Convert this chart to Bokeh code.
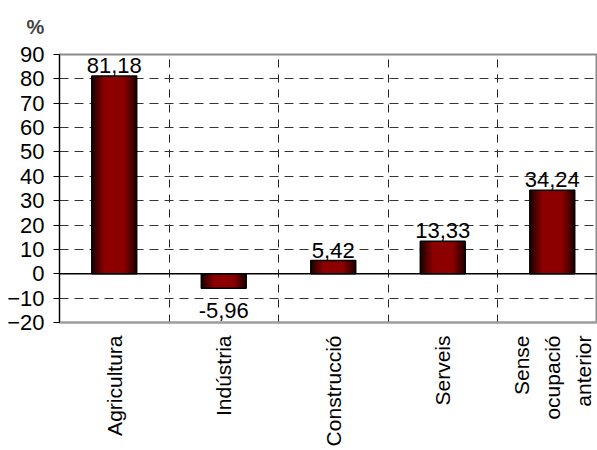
import math
from bokeh.plotting import figure
from bokeh.models import Range1d, FixedTicker, ColumnDataSource, Span
from bokeh.core.properties import value
from bokeh.embed import file_html
from bokeh.resources import INLINE

# ---- data ----
categories = ["Agricultura", "Indústria", "Construcció", "Serveis", "Sense\nocupació\nanterior"]
values = [81.18, -5.96, 5.42, 13.33, 34.24]
y_ticks = [-20, -10, 0, 10, 20, 30, 40, 50, 60, 70, 80, 90]
y_label = "%"

FONT = "Liberation Sans"
FS = "22px"

xs = [i + 0.5 for i in range(len(categories))]
labels = [f"{v:.2f}".replace(".", ",") for v in values]

p = figure(width=597, height=450, output_backend="svg", toolbar_location=None,
           x_range=Range1d(0, 4.913), y_range=Range1d(y_ticks[0], y_ticks[-1]),
           min_border_left=59, min_border_right=0, min_border_top=54, min_border_bottom=128)
p.background_fill_color = "white"
p.border_fill_color = "white"
p.outline_line_color = "#8a8a8a"
p.outline_line_width = 2

# title "%"
p.title.text = y_label
p.title.text_font = FONT
p.title.text_font_size = "20px"
p.title.text_font_style = "bold"
p.title.align = "left"
p.title.vertical_align = "top"
p.title.offset = -33
p.title.standoff = 29

# grids
p.ygrid.ticker = FixedTicker(ticks=y_ticks)
p.ygrid.grid_line_color = "#333333"
p.ygrid.grid_line_dash = "9 6"
p.ygrid.grid_line_width = 1
p.xgrid.ticker = FixedTicker(ticks=list(range(1, len(categories))))
p.xgrid.grid_line_color = "#222222"
p.xgrid.grid_line_dash = "8 7"
p.xgrid.grid_line_width = 1

# y axis
p.yaxis.ticker = FixedTicker(ticks=y_ticks)
p.yaxis.axis_line_color = "black"
p.yaxis.axis_line_width = 1
p.yaxis.major_tick_line_color = "black"
p.yaxis.major_tick_out = 6
p.yaxis.major_tick_in = 0
p.yaxis.minor_tick_line_color = None
p.yaxis.major_label_text_font = FONT
p.yaxis.major_label_text_font_size = FS
p.yaxis.major_label_text_color = "black"
p.yaxis.major_label_standoff = 9

# x axis
p.xaxis.ticker = FixedTicker(ticks=xs)
p.xaxis.major_label_overrides = {x: c for x, c in zip(xs, categories)}
p.xaxis.major_label_orientation = math.pi / 2
p.xaxis.axis_line_color = "#a0a0a0"
p.xaxis.axis_line_width = 2
p.xaxis.major_tick_line_color = None
p.xaxis.minor_tick_line_color = None
p.xaxis.major_tick_out = 0
p.xaxis.major_tick_in = 0
p.xaxis.major_label_text_font = FONT
p.xaxis.major_label_text_font_size = "21px"
p.xaxis.major_label_text_color = "black"
p.xaxis.major_label_standoff = 13
p.xaxis.major_label_text_line_height = 1.35

# zero line
p.add_layout(Span(location=0, dimension="width", line_color="black", line_width=1.5))

# bars with cylinder-like gradient
src = ColumnDataSource(dict(x=xs, top=values, label=labels))
bar_w = 0.41
n_layers = 14
dark = (0x22, 0x00, 0x00)
bright = (0x8c, 0x00, 0x00)
for k in range(n_layers):
    t = k / (n_layers - 1)
    w = bar_w * (1 - 0.85 * t)
    s = min(1.0, t * 1.6)
    col = "#%02x%02x%02x" % tuple(int(d + (b - d) * s) for d, b in zip(dark, bright))
    p.vbar(x="x", top="top", bottom=0, width=w, source=src, fill_color=col, line_color=None)
p.vbar(x="x", top="top", bottom=0, width=bar_w, source=src, fill_color=None,
       line_color="black", line_width=1.5)

# value labels
pos = ColumnDataSource(dict(x=[x for x, v in zip(xs, values) if v >= 0],
                            y=[v for v in values if v >= 0],
                            t=[l for l, v in zip(labels, values) if v >= 0]))
neg = ColumnDataSource(dict(x=[x for x, v in zip(xs, values) if v < 0],
                            y=[v for v in values if v < 0],
                            t=[l for l, v in zip(labels, values) if v < 0]))
p.text(x="x", y="y", text="t", source=pos, text_align="center", text_baseline="bottom",
       y_offset=-3, text_font=value(FONT), text_font_size=FS, text_color="black")
p.text(x="x", y="y", text="t", source=neg, text_align="center", text_baseline="top",
       y_offset=15, text_font=value(FONT), text_font_size=FS, text_color="black")

open("out.html", "w").write(file_html(p, INLINE))
